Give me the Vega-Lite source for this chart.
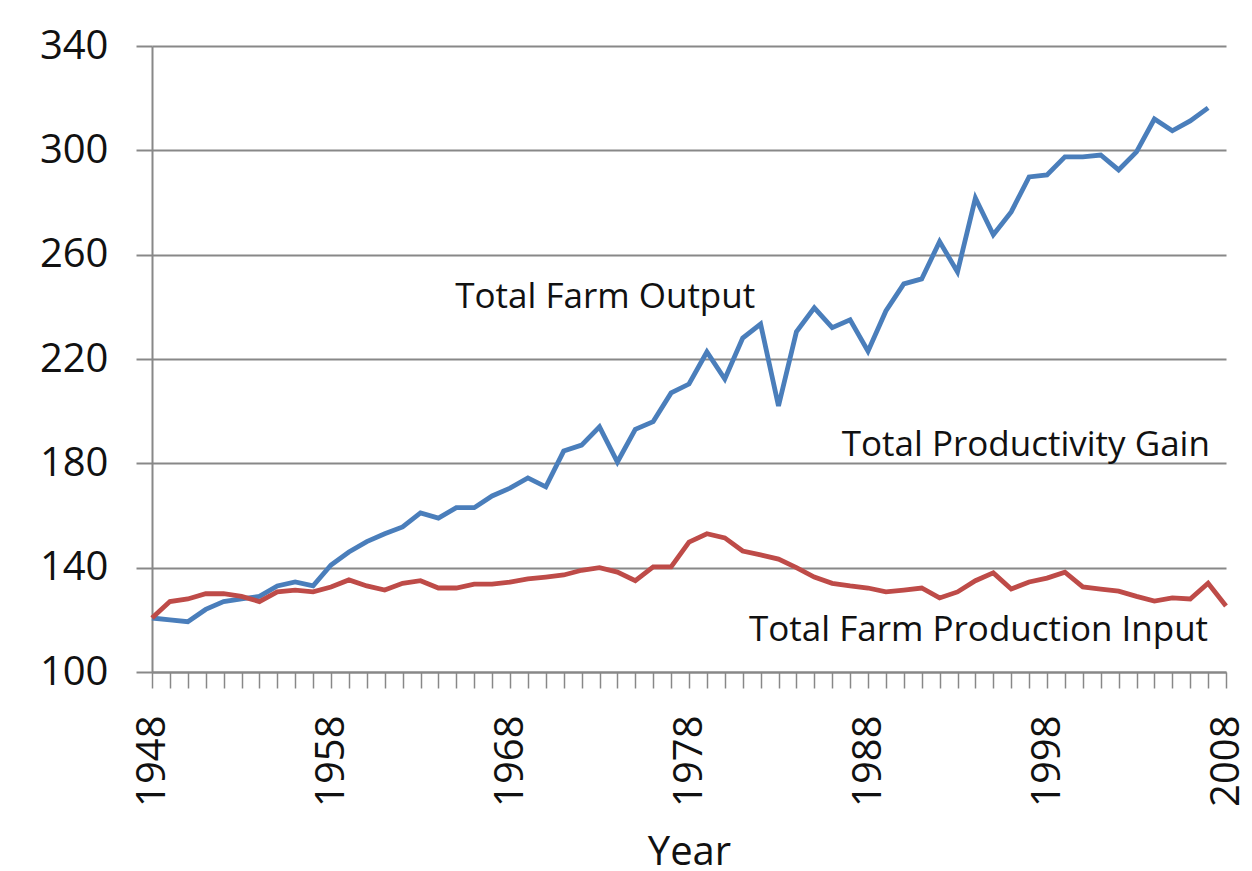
{
  "$schema": "https://vega.github.io/schema/vega-lite/v6.json",
  "autosize": {"type": "none"},
  "width": 1074,
  "height": 626,
  "padding": {"left": 152, "top": 46, "right": 26, "bottom": 199},
  "background": "white",
  "config": {
    "view": {"stroke": null},
    "font": "Open Sans"
  },
  "datasets": {
    "series": [
      {"Year": 1948, "Series": "Output", "Value": 120.7},
      {"Year": 1949, "Series": "Output", "Value": 120.0},
      {"Year": 1950, "Series": "Output", "Value": 119.3},
      {"Year": 1951, "Series": "Output", "Value": 124.0},
      {"Year": 1952, "Series": "Output", "Value": 127.0},
      {"Year": 1953, "Series": "Output", "Value": 128.0},
      {"Year": 1954, "Series": "Output", "Value": 129.0},
      {"Year": 1955, "Series": "Output", "Value": 133.0},
      {"Year": 1956, "Series": "Output", "Value": 134.5},
      {"Year": 1957, "Series": "Output", "Value": 133.0},
      {"Year": 1958, "Series": "Output", "Value": 141.0},
      {"Year": 1959, "Series": "Output", "Value": 146.0},
      {"Year": 1960, "Series": "Output", "Value": 150.0},
      {"Year": 1961, "Series": "Output", "Value": 153.0},
      {"Year": 1962, "Series": "Output", "Value": 155.6},
      {"Year": 1963, "Series": "Output", "Value": 161.0},
      {"Year": 1964, "Series": "Output", "Value": 159.0},
      {"Year": 1965, "Series": "Output", "Value": 163.0},
      {"Year": 1966, "Series": "Output", "Value": 163.0},
      {"Year": 1967, "Series": "Output", "Value": 167.5},
      {"Year": 1968, "Series": "Output", "Value": 170.5},
      {"Year": 1969, "Series": "Output", "Value": 174.4},
      {"Year": 1970, "Series": "Output", "Value": 171.0},
      {"Year": 1971, "Series": "Output", "Value": 184.7},
      {"Year": 1972, "Series": "Output", "Value": 187.0},
      {"Year": 1973, "Series": "Output", "Value": 194.0},
      {"Year": 1974, "Series": "Output", "Value": 180.5},
      {"Year": 1975, "Series": "Output", "Value": 193.0},
      {"Year": 1976, "Series": "Output", "Value": 196.0},
      {"Year": 1977, "Series": "Output", "Value": 207.0},
      {"Year": 1978, "Series": "Output", "Value": 210.4},
      {"Year": 1979, "Series": "Output", "Value": 222.7},
      {"Year": 1980, "Series": "Output", "Value": 212.3},
      {"Year": 1981, "Series": "Output", "Value": 228.0},
      {"Year": 1982, "Series": "Output", "Value": 233.4},
      {"Year": 1983, "Series": "Output", "Value": 202.0},
      {"Year": 1984, "Series": "Output", "Value": 230.4},
      {"Year": 1985, "Series": "Output", "Value": 239.6},
      {"Year": 1986, "Series": "Output", "Value": 232.0},
      {"Year": 1987, "Series": "Output", "Value": 235.0},
      {"Year": 1988, "Series": "Output", "Value": 223.0},
      {"Year": 1989, "Series": "Output", "Value": 238.4},
      {"Year": 1990, "Series": "Output", "Value": 248.8},
      {"Year": 1991, "Series": "Output", "Value": 250.7},
      {"Year": 1992, "Series": "Output", "Value": 265.0},
      {"Year": 1993, "Series": "Output", "Value": 253.4},
      {"Year": 1994, "Series": "Output", "Value": 281.7},
      {"Year": 1995, "Series": "Output", "Value": 267.6},
      {"Year": 1996, "Series": "Output", "Value": 276.4},
      {"Year": 1997, "Series": "Output", "Value": 289.8},
      {"Year": 1998, "Series": "Output", "Value": 290.6},
      {"Year": 1999, "Series": "Output", "Value": 297.5},
      {"Year": 2000, "Series": "Output", "Value": 297.5},
      {"Year": 2001, "Series": "Output", "Value": 298.2},
      {"Year": 2002, "Series": "Output", "Value": 292.5},
      {"Year": 2003, "Series": "Output", "Value": 299.4},
      {"Year": 2004, "Series": "Output", "Value": 312.0},
      {"Year": 2005, "Series": "Output", "Value": 307.5},
      {"Year": 2006, "Series": "Output", "Value": 311.3},
      {"Year": 2007, "Series": "Output", "Value": 316.3},
      {"Year": 1948, "Series": "Input", "Value": 120.7},
      {"Year": 1949, "Series": "Input", "Value": 127.0},
      {"Year": 1950, "Series": "Input", "Value": 128.0},
      {"Year": 1951, "Series": "Input", "Value": 130.0},
      {"Year": 1952, "Series": "Input", "Value": 130.0},
      {"Year": 1953, "Series": "Input", "Value": 129.0},
      {"Year": 1954, "Series": "Input", "Value": 127.0},
      {"Year": 1955, "Series": "Input", "Value": 130.7},
      {"Year": 1956, "Series": "Input", "Value": 131.4},
      {"Year": 1957, "Series": "Input", "Value": 130.7},
      {"Year": 1958, "Series": "Input", "Value": 132.6},
      {"Year": 1959, "Series": "Input", "Value": 135.3},
      {"Year": 1960, "Series": "Input", "Value": 133.0},
      {"Year": 1961, "Series": "Input", "Value": 131.4},
      {"Year": 1962, "Series": "Input", "Value": 134.0},
      {"Year": 1963, "Series": "Input", "Value": 135.0},
      {"Year": 1964, "Series": "Input", "Value": 132.2},
      {"Year": 1965, "Series": "Input", "Value": 132.2},
      {"Year": 1966, "Series": "Input", "Value": 133.7},
      {"Year": 1967, "Series": "Input", "Value": 133.7},
      {"Year": 1968, "Series": "Input", "Value": 134.5},
      {"Year": 1969, "Series": "Input", "Value": 135.7},
      {"Year": 1970, "Series": "Input", "Value": 136.4},
      {"Year": 1971, "Series": "Input", "Value": 137.2},
      {"Year": 1972, "Series": "Input", "Value": 139.0},
      {"Year": 1973, "Series": "Input", "Value": 140.0},
      {"Year": 1974, "Series": "Input", "Value": 138.3},
      {"Year": 1975, "Series": "Input", "Value": 135.0},
      {"Year": 1976, "Series": "Input", "Value": 140.3},
      {"Year": 1977, "Series": "Input", "Value": 140.3},
      {"Year": 1978, "Series": "Input", "Value": 149.8},
      {"Year": 1979, "Series": "Input", "Value": 153.0},
      {"Year": 1980, "Series": "Input", "Value": 151.4},
      {"Year": 1981, "Series": "Input", "Value": 146.4},
      {"Year": 1982, "Series": "Input", "Value": 144.9},
      {"Year": 1983, "Series": "Input", "Value": 143.3},
      {"Year": 1984, "Series": "Input", "Value": 140.0},
      {"Year": 1985, "Series": "Input", "Value": 136.4},
      {"Year": 1986, "Series": "Input", "Value": 134.0},
      {"Year": 1987, "Series": "Input", "Value": 133.0},
      {"Year": 1988, "Series": "Input", "Value": 132.2},
      {"Year": 1989, "Series": "Input", "Value": 130.7},
      {"Year": 1990, "Series": "Input", "Value": 131.4},
      {"Year": 1991, "Series": "Input", "Value": 132.2},
      {"Year": 1992, "Series": "Input", "Value": 128.4},
      {"Year": 1993, "Series": "Input", "Value": 130.7},
      {"Year": 1994, "Series": "Input", "Value": 135.0},
      {"Year": 1995, "Series": "Input", "Value": 138.0},
      {"Year": 1996, "Series": "Input", "Value": 131.8},
      {"Year": 1997, "Series": "Input", "Value": 134.5},
      {"Year": 1998, "Series": "Input", "Value": 136.0},
      {"Year": 1999, "Series": "Input", "Value": 138.3},
      {"Year": 2000, "Series": "Input", "Value": 132.6},
      {"Year": 2001, "Series": "Input", "Value": 131.8},
      {"Year": 2002, "Series": "Input", "Value": 131.0},
      {"Year": 2003, "Series": "Input", "Value": 129.0},
      {"Year": 2004, "Series": "Input", "Value": 127.2},
      {"Year": 2005, "Series": "Input", "Value": 128.4},
      {"Year": 2006, "Series": "Input", "Value": 128.0},
      {"Year": 2007, "Series": "Input", "Value": 134.0},
      {"Year": 2008, "Series": "Input", "Value": 125.3}
    ],
    "labels": [
      {"Label": "Total Farm Output", "Year": 1981.7, "Value": 243.8},
      {"Label": "Total Productivity Gain", "Year": 2007.1, "Value": 187.0},
      {"Label": "Total Farm Production Input", "Year": 2007.0, "Value": 116.1}
    ]
  },
  "encoding": {
    "x": {
      "field": "Year",
      "type": "quantitative",
      "scale": {"domain": [1948, 2008], "nice": false, "zero": false},
      "axis": {
        "title": "Year",
        "values": [1948,1949,1950,1951,1952,1953,1954,1955,1956,1957,1958,1959,1960,1961,1962,1963,1964,1965,1966,1967,1968,1969,1970,1971,1972,1973,1974,1975,1976,1977,1978,1979,1980,1981,1982,1983,1984,1985,1986,1987,1988,1989,1990,1991,1992,1993,1994,1995,1996,1997,1998,1999,2000,2001,2002,2003,2004,2005,2006,2007,2008],
        "labelExpr": "(datum.value - 1948) % 10 == 0 ? datum.value : ''",
        "format": "d",
        "grid": false,
        "domainColor": "#888888",
        "domainWidth": 2,
        "tickColor": "#888888",
        "tickWidth": 1.5,
        "tickSize": 16,
        "labelAngle": 270,
        "labelAlign": "right",
        "labelBaseline": "middle",
        "labelPadding": 27,
        "labelFontSize": 40,
        "labelFont": "Open Sans",
        "labelColor": "#111111",
        "labelOverlap": false,
        "labelFlush": false,
        "titleFont": "Open Sans",
        "titleFontSize": 40,
        "titleFontWeight": "normal",
        "titleColor": "#111111",
        "titlePadding": 26
      }
    },
    "y": {
      "field": "Value",
      "type": "quantitative",
      "scale": {"domain": [100, 340], "nice": false, "zero": false},
      "axis": {
        "title": null,
        "values": [100, 140, 180, 220, 260, 300, 340],
        "grid": true,
        "gridColor": "#888888",
        "gridWidth": 2,
        "domainColor": "#888888",
        "domainWidth": 2,
        "tickColor": "#888888",
        "tickWidth": 2,
        "tickSize": 16,
        "labelPadding": 28,
        "labelFontSize": 40,
        "labelFont": "Open Sans",
        "labelColor": "#111111",
        "labelFlush": false,
        "labelOverlap": false
      }
    }
  },
  "layer": [
    {
      "data": {"name": "series"},
      "mark": {"type": "line", "strokeWidth": 4.8, "strokeJoin": "miter", "clip": false},
      "encoding": {
        "color": {
          "field": "Series",
          "type": "nominal",
          "scale": {"domain": ["Output", "Input"], "range": ["#4a7ebb", "#be4b48"]},
          "legend": null
        }
      }
    },
    {
      "data": {"name": "labels"},
      "mark": {"type": "text", "align": "right", "baseline": "middle", "font": "Open Sans", "fontSize": 35, "color": "#111111"},
      "encoding": {
        "text": {"field": "Label", "type": "nominal"}
      }
    }
  ]
}
